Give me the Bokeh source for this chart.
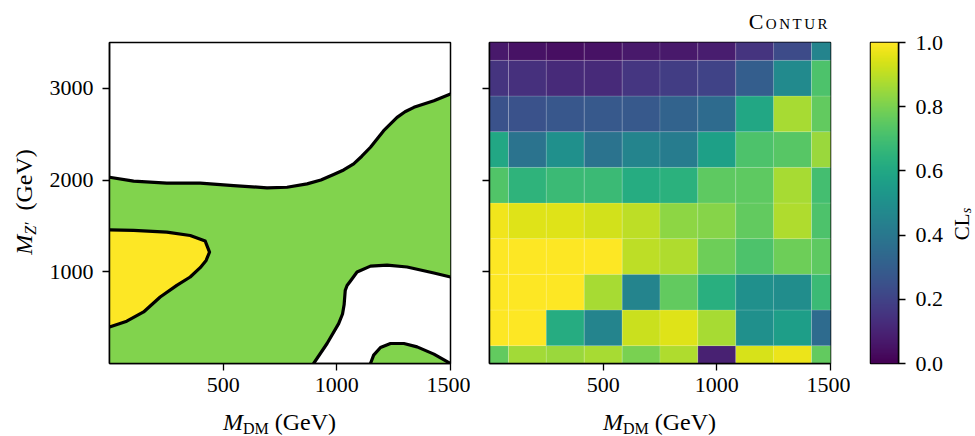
import numpy as np
from bokeh.plotting import figure
from bokeh.layouts import row, column
from bokeh.models import Range1d, FixedTicker, LinearColorMapper, ColumnDataSource, Div
from bokeh.palettes import Viridis256
from bokeh.embed import file_html
from bokeh.resources import INLINE

# ---------------- data ----------------
m_dm = [0, 167, 333, 500, 667, 833, 1000, 1167, 1333, 1500]          # GeV (columns)
m_zp = [0, 389, 778, 1167, 1556, 1944, 2333, 2722, 3111, 3500]       # GeV (rows, bottom -> top)

cls_y0 = [0.76, 0.86, 0.85, 0.87, 0.80, 0.88, 0.09, 0.94, 0.97, 0.76]
cls_y1 = [1.00, 1.00, 0.62, 0.45, 0.92, 0.95, 0.87, 0.50, 0.56, 0.35]
cls_y2 = [1.00, 1.00, 1.00, 0.87, 0.45, 0.76, 0.63, 0.50, 0.49, 0.68]
cls_y3 = [1.00, 1.00, 1.00, 1.00, 0.90, 0.88, 0.78, 0.72, 0.78, 0.75]
cls_y4 = [0.98, 0.95, 0.95, 0.93, 0.90, 0.83, 0.82, 0.76, 0.88, 0.72]
cls_y5 = [0.73, 0.65, 0.68, 0.68, 0.62, 0.64, 0.75, 0.75, 0.87, 0.70]
cls_y6 = [0.60, 0.38, 0.50, 0.38, 0.45, 0.42, 0.57, 0.72, 0.74, 0.85]
cls_y7 = [0.25, 0.25, 0.27, 0.28, 0.28, 0.32, 0.35, 0.60, 0.87, 0.76]
cls_y8 = [0.15, 0.14, 0.12, 0.12, 0.16, 0.18, 0.20, 0.30, 0.48, 0.72]
cls_y9 = [0.07, 0.05, 0.04, 0.05, 0.07, 0.07, 0.08, 0.15, 0.23, 0.45]
cls_rows = [cls_y0, cls_y1, cls_y2, cls_y3, cls_y4, cls_y5, cls_y6, cls_y7, cls_y8, cls_y9]

x_ticks = [500, 1000, 1500]
y_ticks = [1000, 2000, 3000]
cb_ticks = [0.0, 0.2, 0.4, 0.6, 0.8, 1.0]

# contour boundaries (GeV)
c68_upper_x = [0, 106, 252, 399, 546, 693, 781, 869, 930, 986, 1030, 1074, 1110, 1148, 1206, 1265, 1300, 1339, 1427, 1500]
c68_upper_y = [2031, 1988, 1966, 1966, 1940, 1915, 1922, 1959, 2000, 2060, 2110, 2176, 2260, 2358, 2539, 2684, 2745, 2793, 2865, 2938]
c68_lower_x = [898, 957, 1008, 1025, 1032, 1037, 1045, 1060, 1089, 1148, 1221, 1309, 1427, 1500]
c68_lower_y = [0, 218, 435, 540, 640, 798, 850, 900, 997, 1062, 1072, 1052, 987, 943]
c68_island_x = [1148, 1162, 1192, 1236, 1295, 1353, 1427, 1500]
c68_island_y = [0, 91, 174, 218, 218, 181, 102, 0]
c95_x = [0, 106, 252, 355, 421, 440, 425, 399, 355, 296, 223, 150, 76, 0]
c95_y = [1458, 1451, 1433, 1396, 1335, 1215, 1124, 1045, 943, 852, 725, 562, 461, 399]

GREEN = "#81d34d"
YELLOW = "#fde725"
FONT = "Liberation Serif"
X_MIN, X_MAX = 0, 1500
Y_MIN, Y_MAX = 0, 3500
TICK_SIZE = "22px"


def style(p):
    p.grid.visible = False
    p.outline_line_color = "black"
    p.outline_line_width = 1.5
    p.outline_line_alpha = 1.0
    p.background_fill_color = "white"
    p.border_fill_color = "white"
    for ax in p.axis:
        ax.axis_line_color = "black"
        ax.axis_line_width = 1.5
        ax.major_tick_line_color = "black"
        ax.major_tick_line_width = 1.3
        ax.major_tick_out = 7
        ax.major_tick_in = 0
        ax.minor_tick_line_color = None
        ax.major_label_text_font = FONT
        ax.major_label_text_font_size = TICK_SIZE
        ax.major_label_text_color = "black"


BASE = f"font-family:'{FONT}';color:black;white-space:nowrap;"
SUB = "font-size:16px;line-height:16px;vertical-align:-4px;"
SUB_CB = "font-size:14px;line-height:14px;vertical-align:-2px;"


def xlabel_div(width, left):
    html = (f"<div style=\"{BASE}margin-left:{left}px;width:341px;padding-top:5px;"
            f"height:24px;line-height:24px;font-size:24px;text-align:center;\">"
            f"<i>M</i><span style=\"{SUB}\">DM</span>&nbsp;(GeV)</div>")
    return Div(text=html, width=width, height=31, margin=0)


def rot_div(width, inner, cx, cy, size):
    w = 300
    html = (f"<div style=\"{BASE}width:{w}px;height:24px;line-height:24px;font-size:{size}px;"
            f"text-align:center;margin-left:{cx - w / 2:.1f}px;margin-top:{cy - 12:.1f}px;"
            f"transform:rotate(-90deg);\">{inner}</div>")
    return Div(text=html, width=width, height=436, margin=0)


# ---------------- left panel: contours ----------------
p1 = figure(width=430, height=405, output_backend="svg", toolbar_location=None,
            x_range=Range1d(X_MIN, X_MAX), y_range=Range1d(Y_MIN, Y_MAX),
            min_border_left=69, min_border_right=20, min_border_top=42, min_border_bottom=42)

green_x = c68_upper_x + c68_lower_x[::-1] + [0]
green_y = c68_upper_y + c68_lower_y[::-1] + [0]
p1.patch(green_x, green_y, fill_color=GREEN, line_color=None)
p1.patch(c68_island_x, c68_island_y, fill_color=GREEN, line_color=None)
p1.patch(c95_x, c95_y, fill_color=YELLOW, line_color=None)
for cx_, cy_ in [(c68_upper_x, c68_upper_y), (c68_lower_x, c68_lower_y),
                 (c68_island_x, c68_island_y), (c95_x, c95_y)]:
    p1.line(cx_, cy_, line_color="black", line_width=3.2, line_join="round", line_cap="round")

style(p1)
p1.xaxis.ticker = FixedTicker(ticks=x_ticks)
p1.yaxis.ticker = FixedTicker(ticks=y_ticks)
p1.xaxis.major_label_standoff = 7
p1.yaxis.major_label_standoff = 9

# ---------------- right panel: heatmap ----------------
mapper = LinearColorMapper(palette=Viridis256, low=0.0, high=1.0)
gx, gy = np.meshgrid(m_dm, m_zp)
src = ColumnDataSource(dict(x=gx.ravel(), y=gy.ravel(), v=np.array(cls_rows).ravel()))

p2 = figure(width=380, height=365, output_backend="svg", toolbar_location=None,
            x_range=Range1d(X_MIN, X_MAX), y_range=Range1d(Y_MIN, Y_MAX),
            min_border_left=19, min_border_right=20, min_border_top=2, min_border_bottom=42)
dx = (m_dm[-1] - m_dm[0]) / (len(m_dm) - 1)
dy = (m_zp[-1] - m_zp[0]) / (len(m_zp) - 1)
p2.rect(x="x", y="y", width=dx, height=dy, source=src,
        fill_color={"field": "v", "transform": mapper},
        line_color="white", line_alpha=0.18, line_width=0.8)
style(p2)
p2.xaxis.ticker = FixedTicker(ticks=x_ticks)
p2.yaxis.ticker = FixedTicker(ticks=y_ticks)
p2.xaxis.major_label_standoff = 7
p2.yaxis.major_label_overrides = {t: "" for t in y_ticks}
p2.yaxis.major_label_standoff = 0

title_div = Div(text=(f"<div style=\"{BASE}width:360px;padding-top:10px;line-height:24px;"
                      f"font-size:22px;letter-spacing:2.5px;text-align:right;"
                      f"font-variant:small-caps;\">Contur</div>"),
                width=380, height=40, margin=0)

# ---------------- colorbar ----------------
p3 = figure(width=100, height=436, output_backend="svg", toolbar_location=None,
            x_range=Range1d(0, 1), y_range=Range1d(0, 1),
            x_axis_location=None, y_axis_location="right",
            min_border_left=20, min_border_right=52, min_border_top=42, min_border_bottom=73)
grad = np.linspace(0, 1, 256).reshape(-1, 1)
p3.image(image=[grad], x=0, y=0, dw=1, dh=1, color_mapper=mapper)
style(p3)
p3.yaxis.ticker = FixedTicker(ticks=cb_ticks)
p3.yaxis.major_label_overrides = {t: f"{t:.1f}" for t in cb_ticks}
p3.yaxis.major_label_standoff = 10

# ---------------- axis labels (real text, mixed styles) ----------------
ylab = rot_div(40, f"<i>M</i><span style=\"{SUB}\"><i>Z\u2032</i></span>&nbsp;&nbsp;(GeV)", 24, 202, 24)
cblab = rot_div(25, f"CL<span style=\"{SUB_CB}\"><i>s</i></span>", 11.5, 224, 21)

layout = row(
    ylab,
    column(p1, xlabel_div(430, 69)),
    column(title_div, p2, xlabel_div(380, 19)),
    p3,
    cblab,
)
open("out.html", "w").write(file_html(layout, INLINE))
